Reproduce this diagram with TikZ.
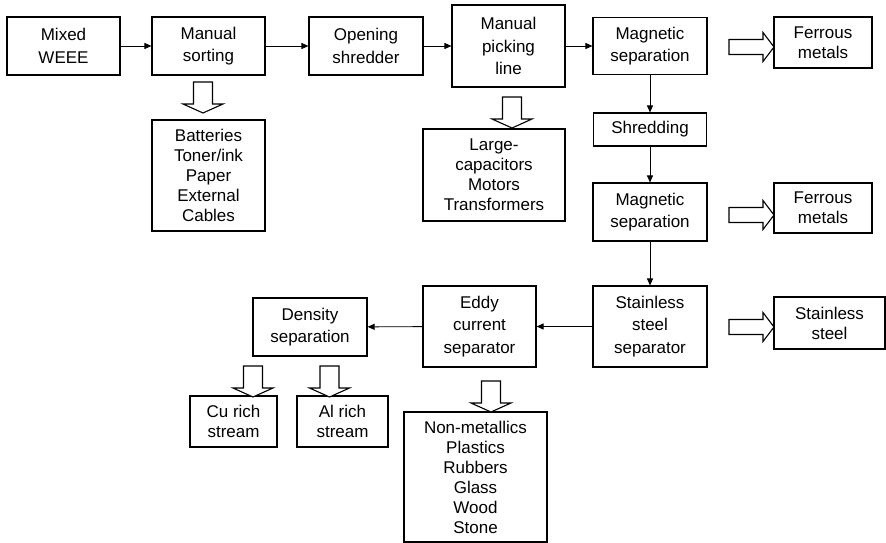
\documentclass[tikz,border=0pt]{standalone}
\usepackage{fontspec}
\setmainfont{Liberation Sans}
\usetikzlibrary{arrows.meta}
\begin{document}
\begin{tikzpicture}[x=1pt,y=-1pt,
  box/.style={draw, line width=1.1pt, inner sep=0pt, align=center,
    font=\fontsize{17}{22.5}\selectfont},
  tight/.style={font=\fontsize{17}{20}\selectfont},
  flow/.style={-{Triangle[length=7pt,width=6pt]}, line width=0.9pt},
  hollow/.style={draw, line width=1.1pt, fill=white, line join=miter},
  hdown/.pic={\draw[hollow] (-9.5,0) -- (9.5,0) -- (9.5,22) -- (20,22) -- (0,31)
      -- (-20,22) -- (-9.5,22) -- cycle;},
  hright/.pic={\draw[hollow] (0,-7.5) -- (34,-7.5) -- (34,-14.5) -- (45,0)
      -- (34,14.5) -- (34,7.5) -- (0,7.5) -- cycle;}]
\useasboundingbox (0,0) rectangle (886,543);

% main process line
\node[box, minimum width=113pt, minimum height=58pt] (mixed) at (63.5,46) {Mixed\\WEEE};
\node[box, minimum width=113pt, minimum height=58pt] (sort) at (208.5,46) {Manual\\sorting};
\node[box, minimum width=114pt, minimum height=58pt] (open) at (366,46) {Opening\\shredder};
\node[box, minimum width=113pt, minimum height=82pt] (pick) at (508.5,46) {Manual\\picking\\line};
\node[box, minimum width=114pt, minimum height=57pt] (mag1) at (650,46) {Magnetic\\separation};
\node[box, tight, minimum width=98pt, minimum height=51pt] (fer1) at (823,42.5) {Ferrous\\metals};
\node[box, minimum width=113pt, minimum height=33pt] (shred) at (650,129.5) {Shredding};
\node[box, minimum width=114pt, minimum height=58pt] (mag2) at (650,212) {Magnetic\\separation};
\node[box, tight, minimum width=98pt, minimum height=50pt] (fer2) at (823,208) {Ferrous\\metals};
\node[box, minimum width=114pt, minimum height=81pt] (ssep) at (650,326.5) {Stainless\\steel\\separator};
\node[box, tight, minimum width=111pt, minimum height=52pt] (ss) at (829.5,323) {Stainless\\steel};
\node[box, minimum width=113pt, minimum height=81pt] (eddy) at (479.5,326.5) {Eddy\\current\\separator};
\node[box, minimum width=114pt, minimum height=58pt] (dens) at (310,327) {Density\\separation};
\node[box, tight, minimum width=87pt, minimum height=51pt] (cu) at (233.5,421.5) {Cu rich\\stream};
\node[box, tight, minimum width=91pt, minimum height=51pt] (al) at (342.5,421.5) {Al rich\\stream};

% side streams
\node[box, tight, minimum width=113pt, minimum height=111pt] (batt) at (208.5,175.5)
  {Batteries\\Toner/ink\\Paper\\External\\Cables};
\node[box, tight, minimum width=142pt, minimum height=92pt] (large) at (494,175)
  {Large-\\capacitors\\Motors\\Transformers};
\node[box, tight, minimum width=143pt, minimum height=130pt] (nonmet) at (475.5,477)
  {Non-metallics\\Plastics\\Rubbers\\Glass\\Wood\\Stone};

% flow connectors
\draw[flow] (mixed) -- (sort);
\draw[flow] (sort) -- (open);
\draw[flow] (open) -- (pick);
\draw[flow] (pick) -- (mag1);
\draw[flow] (mag1) -- (shred);
\draw[flow] (shred) -- (mag2);
\draw[flow] (mag2) -- (ssep);
\draw[flow] (ssep) -- (eddy);
\draw[flow] (eddy) -- (dens);

% hollow output arrows
\pic at (203,82) {hdown};
\pic at (512,97) {hdown};
\pic at (491,381) {hdown};
\pic at (253,366) {hdown};
\pic at (329.5,366) {hdown};
\pic at (729,47) {hright};
\pic at (729,215) {hright};
\pic at (729,327) {hright};
\end{tikzpicture}
\end{document}
